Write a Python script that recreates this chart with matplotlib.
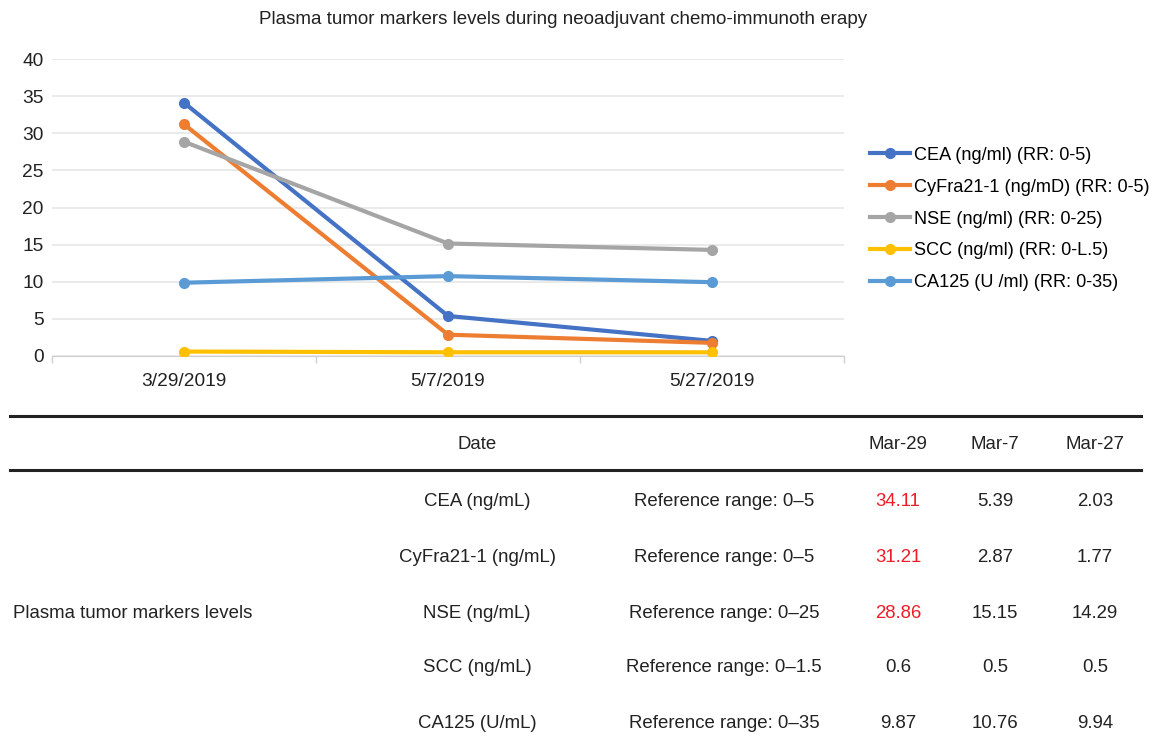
import matplotlib.pyplot as plt
from matplotlib.lines import Line2D

plt.rcParams['font.family'] = ['Liberation Sans', 'DejaVu Sans']

# --- Data ---
DATES = ['3/29/2019', '5/7/2019', '5/27/2019']
CEA = [34.11, 5.39, 2.03]
CYFRA = [31.21, 2.87, 1.77]
NSE = [28.86, 15.15, 14.29]
SCC = [0.6, 0.5, 0.5]
CA125 = [9.87, 10.76, 9.94]

SERIES_LABELS = ['CEA (ng/ml) (RR: 0-5)', 'CyFra21-1 (ng/mD) (RR: 0-5)',
                 'NSE (ng/ml) (RR: 0-25)', 'SCC (ng/ml) (RR: 0-L.5)',
                 'CA125 (U /ml) (RR: 0-35)']
SERIES_COLORS = ['#4472C4', '#ED7D31', '#A5A5A5', '#FFC000', '#5B9BD5']

TABLE_DATES = ['Mar-29', 'Mar-7', 'Mar-27']
MARKERS = ['CEA (ng/mL)', 'CyFra21-1 (ng/mL)', 'NSE (ng/mL)', 'SCC (ng/mL)', 'CA125 (U/mL)']
REF_RANGES = ['Reference range: 0–5', 'Reference range: 0–5', 'Reference range: 0–25',
              'Reference range: 0–1.5', 'Reference range: 0–35']
TABLE_VALUES = [['34.11', '5.39', '2.03'],
                ['31.21', '2.87', '1.77'],
                ['28.86', '15.15', '14.29'],
                ['0.6', '0.5', '0.5'],
                ['9.87', '10.76', '9.94']]
HIGHLIGHT = [[True, False, False],
             [True, False, False],
             [True, False, False],
             [False, False, False],
             [False, False, False]]

W, H = 1155, 746
fig = plt.figure(figsize=(W / 100, H / 100), dpi=100)


def fx(px):
    return px / W


def fy(py):
    return 1 - py / H


# --- Chart ---
ax_left, ax_right, ax_top, ax_bottom = 52, 844, 59, 356
ax = fig.add_axes([fx(ax_left), fy(ax_bottom), fx(ax_right) - fx(ax_left), fy(ax_top) - fy(ax_bottom)])
x = range(len(DATES))
for vals, lab, col in zip([CEA, CYFRA, NSE, SCC, CA125], SERIES_LABELS, SERIES_COLORS):
    ax.plot(x, vals, color=col, lw=3, marker='o', ms=7, label=lab, zorder=3)

ax.set_xlim(-0.5, 2.5)
ax.set_ylim(0, 40)
ax.set_yticks(range(0, 41, 5))
ax.set_xticks(list(x))
ax.set_xticklabels(DATES)
ax.set_xticks([-0.5, 0.5, 1.5, 2.5], minor=True)
ax.tick_params(axis='x', which='major', length=0, pad=12, labelsize=13.8, colors='#222222')
ax.tick_params(axis='x', which='minor', length=5, color='#d0d0d0', width=1)
ax.tick_params(axis='y', length=0, pad=6, labelsize=13.8, colors='#222222')
for s in ['top', 'right', 'left']:
    ax.spines[s].set_visible(False)
ax.spines['bottom'].set_color('#d0d0d0')
ax.grid(axis='y', color='#e6e6e6', lw=1.2)
ax.set_axisbelow(True)

fig.text(fx(563), fy(20), 'Plasma tumor markers levels during neoadjuvant chemo-immunoth erapy',
         ha='center', va='center', fontsize=13.5, color='#222222')

# legend placed in axes coords, just right of the plot area
leg_x = (870 - ax_left) / (ax_right - ax_left)
leg_y = (ax_bottom - 219) / (ax_bottom - ax_top)
ax.legend(loc='center left', bbox_to_anchor=(leg_x, leg_y),
          frameon=False, fontsize=13.1, handlelength=2.2, labelspacing=0.82,
          handletextpad=0.2, borderaxespad=0, borderpad=0)

# --- Table ---
for ly in [416, 470]:
    fig.add_artist(Line2D([fx(10), fx(1141)], [fy(ly), fy(ly)], color='#222222', lw=2.2))

tsize = 13.4
txt = dict(ha='center', va='center', fontsize=tsize, color='#222222')
col_x = [898, 995, 1095]
fig.text(fx(477), fy(445), 'Date', **txt)
for cx, d in zip(col_x, TABLE_DATES):
    fig.text(fx(cx), fy(445), d, **txt)

row_y = [502, 558, 613, 668, 723]
for ry, name, rr, vals, hl in zip(row_y, MARKERS, REF_RANGES, TABLE_VALUES, HIGHLIGHT):
    fig.text(fx(477), fy(ry), name, **txt)
    fig.text(fx(724), fy(ry), rr, **txt)
    for cx, v, h in zip(col_x, vals, hl):
        fig.text(fx(cx), fy(ry), v, ha='center', va='center', fontsize=tsize,
                 color='#ee1c25' if h else '#222222')

fig.text(fx(13), fy(613), 'Plasma tumor markers levels', ha='left', va='center',
         fontsize=tsize, color='#222222')

fig.savefig('out.png', dpi=100)
